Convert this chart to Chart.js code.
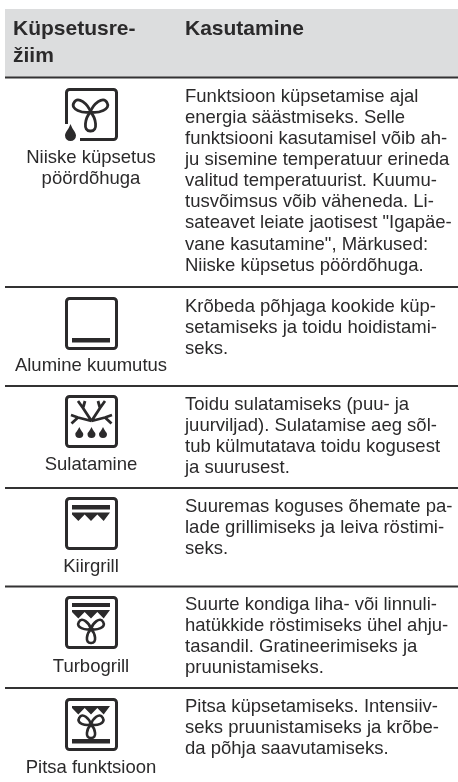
<!DOCTYPE html>
<html>
<head>
<meta charset="utf-8">
<style>
  html, body { margin: 0; padding: 0; background: #fff; }
  #wrap { width: 458px; height: 782px; }
  canvas { display: block; }
</style>
<script src="https://cdn.jsdelivr.net/npm/chart.js@4"></script>
</head>
<body>
<div id="wrap"><canvas id="tbl" width="458" height="782"></canvas></div>
<script>
/* ---------- DATA ---------- */
const headerLeft = ["Küpsetusre-", "žiim"];
const headerRight = ["Kasutamine"];

const modes = [
  ["Niiske küpsetus", "pöördõhuga"],
  ["Alumine kuumutus"],
  ["Sulatamine"],
  ["Kiirgrill"],
  ["Turbogrill"],
  ["Pitsa funktsioon"]
];

const usage = [
  ["Funktsioon küpsetamise ajal", "energia säästmiseks. Selle", "funktsiooni kasutamisel võib ah-",
   "ju sisemine temperatuur erineda", "valitud temperatuurist. Kuumu-", "tusvõimsus võib väheneda. Li-",
   "sateavet leiate jaotisest \"Igapäe-", "vane kasutamine\", Märkused:", "Niiske küpsetus pöördõhuga."],
  ["Krõbeda põhjaga kookide küp-", "setamiseks ja toidu hoidistami-", "seks."],
  ["Toidu sulatamiseks (puu- ja", "juurviljad). Sulatamise aeg sõl-", "tub külmutatava toidu kogusest", "ja suurusest."],
  ["Suuremas koguses õhemate pa-", "lade grillimiseks ja leiva röstimi-", "seks."],
  ["Suurte kondiga liha- või linnuli-", "hatükkide röstimiseks ühel ahju-", "tasandil. Gratineerimiseks ja", "pruunistamiseks."],
  ["Pitsa küpsetamiseks. Intensiiv-", "seks pruunistamiseks ja krõbe-", "da põhja saavutamiseks."]
];

const icons = ["fanDrop", "bottom", "defrost", "grill", "turboGrill", "pizza"];

/* ---------- LAYOUT ---------- */
const INK = "#2b2a2b";
const BAND = "#dcddde";
const rowRules = [77.5, 287, 386, 488, 586.5, 688];
const iconTops = [88, 297, 395, 497, 596, 698];
const modeBase = [163, 371, 470, 572, 672, 773];
const usageBase = [101.5, 312, 410, 512, 610, 712];
const LINE = 21.15;
const ICON = 53;

/* ---------- ICONS ---------- */
function roundedBox(c) {
  c.beginPath();
  c.roundRect(1.5, 1.5, ICON - 3, ICON - 3, 3);
  c.stroke();
}
function bar(c, y, h) {
  c.fillRect(7, y, ICON - 15, h);
}
function teeth(c, y, h) {
  const w = (ICON - 15) / 3;
  c.beginPath();
  c.moveTo(7, y);
  c.lineTo(7 + 3 * w, y);
  for (let i = 2; i >= 0; i--) {
    c.lineTo(7 + (i + 0.5) * w, y + h);
    c.lineTo(7 + i * w, y + 2);
  }
  c.closePath();
  c.fill();
}
function fan(c, cx, cy, len, wid, lw) {
  c.save();
  c.lineWidth = lw;
  c.translate(cx, cy);
  [0, -2 * Math.PI / 3, 2 * Math.PI / 3].forEach(a => {
    c.save();
    c.rotate(a);
    c.beginPath();
    c.moveTo(0, 0);
    c.bezierCurveTo(wid * 0.7, len * 0.3, wid * 1.1, len * 1.02, 0, len);
    c.bezierCurveTo(-wid * 1.1, len * 1.02, -wid * 0.7, len * 0.3, 0, 0);
    c.stroke();
    c.restore();
  });
  c.restore();
}
function drop(c, x, y, w, h) {
  c.beginPath();
  c.moveTo(x, y);
  c.bezierCurveTo(x + w * 0.2, y + h * 0.35, x + w / 2, y + h * 0.5, x + w / 2, y + h - w / 2);
  c.arc(x, y + h - w / 2, w / 2, 0, Math.PI);
  c.bezierCurveTo(x - w / 2, y + h * 0.5, x - w * 0.2, y + h * 0.35, x, y);
  c.fill();
}
function flake(c) {
  const arms = [
    [26.5, 26, 18, 13], [18, 13, 13, 6], [18, 13, 20, 6],
    [26.5, 26, 35, 13], [35, 13, 33, 6], [35, 13, 40, 6],
    [26.5, 26, 13, 22.5], [13, 22.5, 6, 20], [13, 22.5, 6.5, 28.5],
    [26.5, 26, 40, 22.5], [40, 22.5, 47, 20], [40, 22.5, 46.5, 28.5]
  ];
  c.lineWidth = 2.8;
  c.beginPath();
  arms.forEach(a => { c.moveTo(a[0], a[1]); c.lineTo(a[2], a[3]); });
  c.stroke();
}
const iconDraw = {
  fanDrop(c) {
    c.beginPath();
    c.moveTo(1.5, 36);
    c.lineTo(1.5, 4.5);
    c.arcTo(1.5, 1.5, 4.5, 1.5, 3);
    c.lineTo(48.5, 1.5);
    c.arcTo(51.5, 1.5, 51.5, 4.5, 3);
    c.lineTo(51.5, 48.5);
    c.arcTo(51.5, 51.5, 48.5, 51.5, 3);
    c.lineTo(15, 51.5);
    c.stroke();
    fan(c, 25.5, 24, 19, 7.5, 2.8);
    drop(c, 5.5, 36, 11, 17);
  },
  bottom(c) { roundedBox(c); bar(c, 41, 4.5); },
  defrost(c) {
    roundedBox(c);
    flake(c);
    drop(c, 14.3, 32, 8, 11);
    drop(c, 26.5, 32, 8, 11);
    drop(c, 38, 32, 8, 11);
  },
  grill(c) { roundedBox(c); bar(c, 8, 4.5); teeth(c, 15.5, 8.5); },
  turboGrill(c) { roundedBox(c); bar(c, 7, 4); teeth(c, 14, 8.5); fan(c, 26, 33, 14, 6, 2.6); },
  pizza(c) { roundedBox(c); teeth(c, 8, 8.5); fan(c, 26, 26.5, 13.5, 6, 2.6); bar(c, 41, 4.5); }
};
function makeIcon(name) {
  const cv = document.createElement("canvas");
  cv.width = ICON; cv.height = ICON;
  const c = cv.getContext("2d");
  c.strokeStyle = INK; c.fillStyle = INK;
  c.lineWidth = 3; c.lineJoin = "round"; c.lineCap = "butt";
  iconDraw[name](c);
  return cv;
}

/* ---------- PLUGINS ---------- */
const headerBand = {
  id: "headerBand",
  beforeDatasetsDraw(chart) {
    const { ctx, scales: { x, y } } = chart;
    ctx.save();
    ctx.fillStyle = BAND;
    ctx.fillRect(x.getPixelForValue(5), y.getPixelForValue(9), x.getPixelForValue(458) - x.getPixelForValue(5), y.getPixelForValue(77) - y.getPixelForValue(9));
    ctx.restore();
  }
};

const tableText = {
  id: "tableText",
  afterDatasetsDraw(chart) {
    const { ctx, scales: { x, y } } = chart;
    ctx.save();
    ctx.fillStyle = INK;
    ctx.textBaseline = "alphabetic";

    ctx.font = "bold 21px 'Liberation Sans'";
    ctx.textAlign = "left";
    headerLeft.forEach((t, i) => ctx.fillText(t, x.getPixelForValue(13), y.getPixelForValue(34.5 + i * 27)));
    headerRight.forEach(t => ctx.fillText(t, x.getPixelForValue(185), y.getPixelForValue(34.5)));

    ctx.font = "18.5px 'Liberation Sans'";
    ctx.textAlign = "center";
    modes.forEach((lines, r) => lines.forEach((t, i) =>
      ctx.fillText(t, x.getPixelForValue(91), y.getPixelForValue(modeBase[r] + i * LINE))));

    ctx.textAlign = "left";
    usage.forEach((lines, r) => lines.forEach((t, i) =>
      ctx.fillText(t, x.getPixelForValue(185), y.getPixelForValue(usageBase[r] + i * LINE))));
    ctx.restore();
  }
};

/* ---------- CHART ---------- */
const ruleSets = rowRules.map(v => ({
  type: "line",
  data: [{ x: 5, y: v }, { x: 458, y: v }],
  borderColor: "#333233",
  borderWidth: 2,
  pointRadius: 0
}));

const iconSet = {
  type: "scatter",
  data: iconTops.map(t => ({ x: 91.5, y: t + ICON / 2 })),
  pointStyle: icons.map(makeIcon),
  pointRadius: ICON / 2
};

new Chart(document.getElementById("tbl"), {
  data: { datasets: [...ruleSets, iconSet] },
  plugins: [headerBand, tableText],
  options: {
    responsive: false,
    animation: false,
    layout: { padding: 0, autoPadding: false },
    plugins: { legend: { display: false }, tooltip: { enabled: false } },
    scales: {
      x: { type: "linear", min: 0, max: 458, display: false },
      y: { type: "linear", min: 0, max: 782, reverse: true, display: false }
    }
  }
});
</script>
</body>
</html>
